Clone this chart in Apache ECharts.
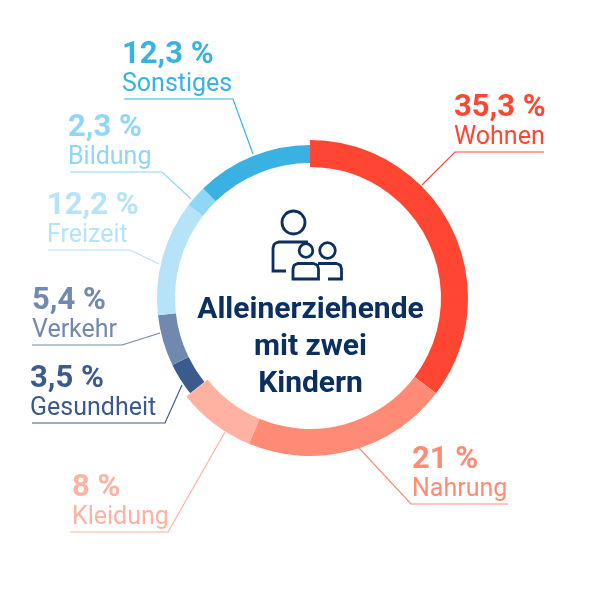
<!DOCTYPE html>
<html><head><meta charset="utf-8">
<style>html,body{margin:0;padding:0;background:#fff}#c{width:600px;height:600px}</style>
<script src="https://cdn.jsdelivr.net/npm/echarts@6/dist/echarts.min.js"></script>
</head><body><div id="c"></div>
<script>
const categories = ['Wohnen','Nahrung','Kleidung','Gesundheit','Verkehr','Freizeit','Bildung','Sonstiges'];
const values = [35.3,21,8,3.5,5.4,12.2,2.3,12.3];
const valueLabels = ['35,3 %','21 %','8 %','3,5 %','5,4 %','12,2 %','2,3 %','12,3 %'];
const colors = ['#ff4632','#ff8b77','#ffb1a2','#3b5b8d','#7189ae','#b6e3f8','#90d6f6','#39b2e3'];
const wideBand = [true,true,true,false,false,false,false,false];
const centerLines = 'Alleinerziehende\nmit zwei\nKindern';
// leader lines: ring point, elbow, end under the label
const leaders = [
 [[422,185],[455,152],[544,152]],
 [[358,447],[411,504],[508,504]],
 [[225,432],[168,532],[70,532]],
 [[182,385],[165,423],[32,423]],
 [[160,333],[122,345],[32,345]],
 [[159,264],[130,250],[48,250]],
 [[191,199],[162,172],[70,172]],
 [[253,154],[233,99],[124,99]]
];
const labelX = [454,412,72,30,32,47,68,122];
const iconColor = '#0a2f60';
const iconStyle = {fill:'none',stroke:iconColor,lineWidth:2.8};
const chart = echarts.init(document.getElementById('c'));
const rich = {};
colors.forEach((c,i)=>{
  rich['v'+i] = {fontFamily:'Roboto',fontWeight:700,fontSize:31,lineHeight:32,color:c};
  rich['n'+i] = {fontFamily:'Roboto',fontWeight:400,fontSize:25,lineHeight:27,color:c};
});
const bandSeries = (radius, wide) => ({
  type:'pie',center:[310,298],radius,startAngle:90,clockwise:true,
  avoidLabelOverlap:false,silent:true,
  data:categories.map((n,i)=>({name:n,value:values[i],
    itemStyle:{color:wideBand[i]===wide?colors[i]:'transparent'},
    label:{formatter:`{v${i}|${valueLabels[i]}}\n{n${i}|${n}}`,rich},
    labelLine:{lineStyle:{color:colors[i],width:1.2}}})),
  label:{show:wide,position:'outside'},
  labelLine:{show:wide},
  labelLayout:wide?function(p){
    const i=p.dataIndex;
    return {x:labelX[i],y:leaders[i][2][1]-1,align:'left',verticalAlign:'bottom',labelLinePoints:leaders[i]};
  }:undefined
});
chart.setOption({
  animation:false,
  backgroundColor:'#fff',
  series:[bandSeries([135,153],false),bandSeries([131,158],true)],
  graphic:[
    {type:'text',silent:true,x:310.5,y:292,style:{text:centerLines,align:'center',verticalAlign:'top',
      fontFamily:'Roboto',fontWeight:700,fontSize:30,lineHeight:37,fill:iconColor}},
    {type:'circle',silent:true,shape:{cx:293.5,cy:222.5,r:11.5},style:iconStyle},
    {type:'circle',silent:true,shape:{cx:306,cy:250.5,r:6.8},style:iconStyle},
    {type:'circle',silent:true,shape:{cx:327.5,cy:250.5,r:7.8},style:iconStyle},
    {type:'polyline',silent:true,shape:{points:[[286,271],[273,271],[273,248],[274,244.5],[276,243],[279,242],[308,242]]},style:iconStyle},
    {type:'polygon',silent:true,shape:{points:[[293,279],[293,269],[294,265.5],[295.5,264.5],[298,263.5],[313,263.5],[316,264.5],[317.5,265.5],[318.5,269],[318.5,279]]},style:iconStyle},
    {type:'polyline',silent:true,shape:{points:[[318,263.5],[336,263.5],[339,264.5],[340.5,265.5],[341.5,269],[341.5,279],[328,279]]},style:iconStyle}
  ]
});
</script></body></html>
